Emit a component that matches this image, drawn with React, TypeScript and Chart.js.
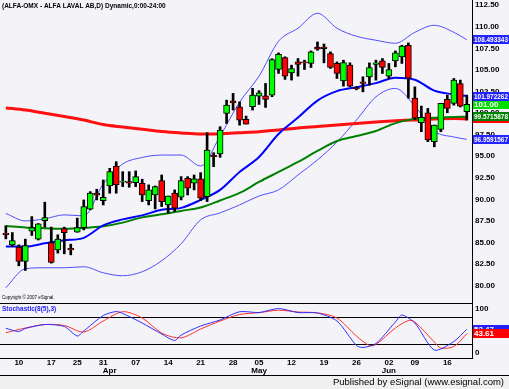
import React, { useEffect, useRef } from "react";
import { Chart, registerables } from "chart.js";

Chart.register(...registerables);

// ---- Daily OHLC (ALFA LAVAL AB), 72 sessions ----
const opens = [
  86.08, 84.74, 84.47, 82.81, 86.32, 85.40, 87.55, 85.00, 84.16, 86.62,
  84.32, 86.20, 86.74, 88.87, 90.72, 89.86, 91.56, 93.87, 92.00, 92.06,
  91.94, 91.87, 89.86, 90.52, 92.17, 89.36, 90.72, 90.25, 92.45, 91.87,
  92.37, 90.32, 95.10, 95.26, 99.97, 101.42, 100.73, 99.27, 100.73, 101.95,
  102.00, 102.08, 105.05, 106.44, 104.66, 105.93, 105.95, 105.75, 107.66, 107.66,
  106.90, 105.75, 103.74, 105.55, 102.95, 103.62, 104.20, 105.63, 106.05, 104.28,
  106.05, 106.51, 107.86, 101.73, 98.88, 100.04, 96.69, 98.12, 101.58, 101.12,
  103.43, 100.15,
];
const highs = [
  86.94, 86.16, 84.74, 85.40, 88.01, 87.20, 89.68, 86.79, 85.90, 86.79,
  84.82, 87.83, 89.94, 90.90, 91.18, 92.25, 93.60, 94.37, 93.21, 93.21,
  93.30, 92.34, 91.68, 91.56, 92.83, 90.40, 91.10, 92.64, 92.64, 92.83,
  93.10, 97.72, 95.41, 98.42, 101.50, 102.28, 101.30, 99.65, 102.86, 102.60,
  103.43, 106.30, 106.97, 106.52, 105.55, 106.32, 106.13, 107.20, 108.24, 108.00,
  107.09, 105.93, 106.13, 105.82, 103.05, 104.20, 105.82, 106.13, 106.32, 105.75,
  107.20, 107.86, 108.13, 103.04, 100.81, 100.54, 98.61, 101.12, 102.08, 104.01,
  103.82, 102.08,
];
const lows = [
  85.43, 84.54, 82.31, 81.77, 85.82, 85.30, 86.79, 82.62, 83.78, 83.70,
  83.58, 86.20, 86.47, 88.80, 89.94, 89.36, 90.72, 90.72, 91.48, 91.41,
  91.48, 89.75, 89.36, 88.90, 89.17, 88.40, 88.60, 89.94, 90.52, 91.10,
  89.86, 89.75, 93.79, 94.88, 98.80, 100.35, 98.60, 98.73, 100.35, 101.00,
  100.66, 101.90, 104.60, 103.90, 103.82, 104.28, 105.05, 105.28, 107.28, 105.82,
  105.17, 104.01, 103.12, 103.05, 102.70, 102.46, 103.24, 103.82, 104.59, 104.01,
  105.36, 105.75, 101.73, 99.27, 97.84, 96.69, 96.10, 97.84, 100.04, 100.92,
  100.70, 99.19,
];
const closes = [
  85.92, 85.24, 82.81, 84.66, 86.74, 87.17, 87.90, 82.69, 85.40, 86.16,
  84.15, 86.74, 89.17, 90.72, 90.49, 90.25, 93.21, 91.68, 92.12, 91.87,
  92.64, 90.52, 91.10, 91.48, 89.75, 90.40, 88.98, 92.17, 91.29, 92.37,
  90.14, 95.72, 94.95, 98.03, 100.92, 101.19, 99.19, 98.73, 102.08, 102.35,
  101.58, 106.20, 106.82, 104.28, 105.17, 105.63, 105.80, 107.09, 107.40, 107.47,
  105.28, 104.59, 105.86, 103.12, 102.80, 103.43, 105.28, 105.82, 105.28, 105.05,
  106.97, 107.75, 104.05, 99.42, 99.50, 96.88, 98.61, 101.12, 100.54, 103.82,
  100.81, 101.00,
];

// ---- Indicator lines, read at these session indices ----
const lineIdx = [0, 3, 6, 9, 12, 15, 18, 21, 24, 27, 30, 33, 36, 39, 42, 45, 48, 51, 54, 57, 60, 63, 66, 69, 71];
const bbUpper = [
  88.38, 87.51, 87.75, 88.21, 88.09, 91.79, 94.10, 94.86, 95.14, 95.14,
  93.87, 97.34, 101.27, 104.28, 108.32, 109.83, 111.56, 109.83, 108.90, 108.44,
  108.09, 109.36, 110.17, 109.36, 108.493343,
];
const bbMiddle = [
  84.54, 84.54, 84.91, 85.26, 85.55, 86.99, 87.69, 88.15, 88.79, 89.02,
  89.94, 91.10, 93.18, 94.91, 97.57, 99.48, 101.45, 102.54, 103.00, 103.47,
  104.10, 103.87, 102.60, 102.17, 101.972262,
];
const bbLower = [
  79.77, 81.97, 82.08, 82.08, 82.20, 81.50, 81.16, 81.62, 82.89, 84.86,
  87.63, 88.44, 89.36, 90.40, 91.10, 92.83, 94.57, 96.65, 99.19, 101.88,
  102.86, 100.81, 97.92, 97.23, 96.9591567,
];
const maGreen = [
  86.91, 86.76, 86.67, 86.59, 86.68, 86.88, 87.31, 87.92, 88.27, 88.67,
  89.06, 89.88, 90.75, 92.02, 93.18, 94.34, 95.61, 96.76, 97.34, 97.92,
  98.84, 99.33, 99.45, 99.54, 99.5715878,
];
const maRed = [
  100.60, 100.35, 99.98, 99.60, 99.19, 98.67, 98.38, 98.12, 97.86, 97.69,
  97.57, 97.62, 97.73, 97.85, 98.03, 98.27, 98.44, 98.61, 98.79, 98.96,
  99.10, 99.21, 99.31, 99.36, 99.3164,
];

// ---- Stochastic(8(5),3) ----
const stochKIdx = [0, 2, 3, 6, 9, 11, 12, 15, 17, 18, 21, 24, 26, 27, 30, 33, 36, 39, 42, 45, 48, 51, 54, 55, 57, 60, 61, 63, 66, 69, 71];
const stochK = [
  55.5, 48.3, 55.1, 64.0, 59.6, 38.2, 49.4, 84.3, 93.3, 88.8, 67.4, 42.7, 28.1, 40.4, 60.7, 74.2,
  92.8, 91.0, 100, 91.0, 89.9, 71.9, 16.9, 12.4, 21.3, 69.7, 85.4, 67.4, 6.7, 25.8, 53.47,
];
const stochDIdx = [0, 3, 6, 9, 12, 15, 18, 21, 24, 27, 30, 33, 36, 39, 42, 45, 48, 51, 54, 56, 57, 60, 62, 63, 66, 67, 69, 71];
const stochD = [
  45.6, 56.2, 64.0, 61.8, 47.2, 71.9, 92.8, 78.7, 44.9, 34.2, 53.9, 71.9, 86.5, 90.6,
  96.2, 92.1, 90.3, 78.7, 38.2, 16.9, 19.1, 56.2, 73.0, 69.7, 24.7, 11.2, 14.6, 43.61,
];

// ---- X axis labels (first session of each week, month names) ----
const weekTickIdx = [2, 7, 11, 15, 20, 25, 30, 35, 39, 44, 49, 54, 59, 63, 68];
const weekTickText = ["10", "17", "25", "31", "07", "14", "21", "28", "05", "12", "19", "26", "02", "09", "16"];
const monthTickIdx = [16, 39, 59];
const monthTickText = ["Apr", "May", "Jun"];

const TITLE = "(ALFA-OMX - ALFA LAVAL AB,D) Dynamic,0:00-24:00";
const STOCH_TITLE = "Stochastic(8(5),3)";
const COPYRIGHT = "Copyright \u00A9 2007 eSignal.";
const FOOTER = "Published by eSignal (www.esignal.com)";

const TICK_FONT = { family: "'Liberation Sans', Arial, sans-serif", size: 8, weight: "bold" as const, lineHeight: 1 };

export default function App() {
  const ref = useRef<HTMLCanvasElement>(null);

  useEffect(() => {
    document.body.style.margin = "0";
    const canvas = ref.current;
    if (!canvas) return;

    const idx = opens.map((_, i) => i);
    const bodyData = idx.map((i) => ({ x: i, y: [opens[i], closes[i]] }));
    const wickData = idx.map((i) => ({ x: i, y: [lows[i], highs[i]] }));
    const pts = (xs: number[], ys: number[]) => xs.map((x, k) => ({ x, y: ys[k] }));

    const tickText = new Map<number, string | string[]>();
    weekTickIdx.forEach((v, k) => tickText.set(v, weekTickText[k]));
    monthTickIdx.forEach((v, k) => {
      const w = tickText.get(v);
      tickText.set(v, [typeof w === "string" ? w : "", monthTickText[k]]);
    });
    const xTickValues = Array.from(tickText.keys()).sort((a, b) => a - b);

    const lineBase = {
      type: "line" as const,
      pointRadius: 0,
      xAxisID: "x",
      yAxisID: "y",
      cubicInterpolationMode: "monotone" as const,
      fill: false,
    };

    const noPad = (scale: any) => {
      scale.paddingTop = 0;
      scale.paddingBottom = 0;
      scale.paddingLeft = 0;
      scale.paddingRight = 0;
    };

    const bgPlugin = {
      id: "bgFill",
      beforeDraw(chart: any) {
        const { ctx, width, height } = chart;
        ctx.save();
        ctx.fillStyle = "#F4F3F8";
        ctx.fillRect(0, 0, width, height);
        // footer band
        const fy = height - 14;
        ctx.fillStyle = "#F0F0F0";
        ctx.fillRect(0, fy, width, height - fy);
        ctx.strokeStyle = "#000";
        ctx.lineWidth = 1;
        ctx.beginPath();
        ctx.moveTo(0, fy + 0.5);
        ctx.lineTo(width, fy + 0.5);
        ctx.stroke();
        ctx.fillStyle = "#000";
        ctx.font = "9.5px 'Liberation Sans', Arial, sans-serif";
        ctx.textAlign = "right";
        ctx.textBaseline = "middle";
        ctx.fillText(FOOTER, width - 5, fy + 7.5);
        ctx.restore();
      },
    };

    const decoPlugin = {
      id: "deco",
      afterDraw(chart: any) {
        const { ctx, chartArea, scales, width } = chart;
        const yS = scales.yS;
        const y = scales.y;
        ctx.save();
        ctx.strokeStyle = "#000";
        ctx.lineWidth = 1;
        // panel separator
        const sy = Math.round(yS.top) + 0.5;
        ctx.beginPath();
        ctx.moveTo(chartArea.left, sy);
        ctx.lineTo(chartArea.right, sy);
        ctx.stroke();
        // titles
        ctx.textAlign = "left";
        ctx.textBaseline = "middle";
        ctx.font = "bold 6.5px 'Liberation Sans', Arial, sans-serif";
        ctx.fillStyle = "#000";
        ctx.fillText(TITLE, 2, 6);
        ctx.font = "4.5px 'Liberation Sans', Arial, sans-serif";
        ctx.fillText(COPYRIGHT, 2, yS.top - 5);
        ctx.font = "bold 6.5px 'Liberation Sans', Arial, sans-serif";
        ctx.fillStyle = "#2020FF";
        ctx.fillText(STOCH_TITLE, 2, yS.top + 6);

        // value boxes on the right axis
        const boxX = chartArea.right + 1;
        const boxW = width - boxX;
        const drawBox = (scale: any, value: number, bg: string, text: string) => {
          const py = scale.getPixelForValue(value);
          const top = Math.round(py - 4.5);
          ctx.fillStyle = bg;
          ctx.fillRect(boxX, top, boxW, 9);
          ctx.fillStyle = "#FFFFFF";
          ctx.font = "bold 8px 'Liberation Sans', Arial, sans-serif";
          ctx.textAlign = "left";
          ctx.textBaseline = "middle";
          ctx.fillText(text, boxX + 1, top + 5, boxW - 2);
        };
        const last = (a: number[]) => a[a.length - 1];
        drawBox(y, last(maRed), "#FF0000", String(last(maRed)));
        drawBox(y, last(bbLower), "#2323FF", String(last(bbLower)));
        drawBox(y, last(maGreen), "#008000", String(last(maGreen)));
        drawBox(y, last(closes), "#00E000", last(closes).toFixed(2));
        drawBox(y, last(bbMiddle), "#2323FF", String(last(bbMiddle)));
        drawBox(y, last(bbUpper), "#2323FF", String(last(bbUpper)));
        drawBox(yS, last(stochK), "#2323FF", last(stochK).toFixed(2));
        drawBox(yS, last(stochD), "#FF0000", last(stochD).toFixed(2));
        ctx.restore();
      },
    };

    const chart = new Chart(canvas, {
      type: "bar",
      data: {
        datasets: [
          {
            type: "bar",
            data: bodyData as any,
            xAxisID: "x",
            yAxisID: "y",
            grouped: false,
            barThickness: 6,
            borderWidth: 1,
            borderColor: "#000000",
            borderSkipped: false,
            backgroundColor: (c: any) =>
              closes[c.dataIndex] >= opens[c.dataIndex] ? "#00FF00" : "#FF0000",
            order: 0,
          } as any,
          {
            type: "bar",
            data: wickData as any,
            xAxisID: "x",
            yAxisID: "y",
            grouped: false,
            barThickness: 2,
            borderWidth: 0,
            backgroundColor: "#000000",
            order: 1,
          } as any,
          { ...lineBase, data: pts(lineIdx, bbMiddle), borderColor: "#0000FF", borderWidth: 2, order: 2 } as any,
          { ...lineBase, data: pts(lineIdx, maGreen), borderColor: "#008000", borderWidth: 2, order: 3 } as any,
          { ...lineBase, data: pts(lineIdx, maRed), borderColor: "#FF1010", borderWidth: 3, order: 4 } as any,
          { ...lineBase, data: pts(lineIdx, bbUpper), borderColor: "#5050FF", borderWidth: 1, order: 5 } as any,
          { ...lineBase, data: pts(lineIdx, bbLower), borderColor: "#5050FF", borderWidth: 1, order: 5 } as any,
          {
            type: "line",
            data: pts(stochKIdx, stochK),
            xAxisID: "x",
            yAxisID: "yS",
            pointRadius: 0,
            borderWidth: 1,
            borderColor: "#3030FF",
            tension: 0.25,
            order: 6,
          } as any,
          {
            type: "line",
            data: pts(stochDIdx, stochD),
            xAxisID: "x",
            yAxisID: "yS",
            pointRadius: 0,
            borderWidth: 1,
            borderColor: "#FF3030",
            tension: 0.3,
            order: 7,
          } as any,
        ],
      },
      options: {
        responsive: false,
        animation: false,
        devicePixelRatio: 1,
        events: [],
        layout: { padding: { left: 0, right: 0, top: 0, bottom: 14 } },
        plugins: { legend: { display: false }, tooltip: { enabled: false } },
        scales: {
          x: {
            type: "linear",
            position: "bottom",
            min: -0.9,
            max: 71.8,
            offset: false,
            grid: { display: false, drawTicks: false },
            border: { display: true, color: "#000000", width: 1 },
            afterBuildTicks: (scale: any) => {
              scale.ticks = xTickValues.map((v) => ({ value: v }));
            },
            afterFit: (scale: any) => {
              scale.height = 17;
              noPad(scale);
            },
            ticks: {
              autoSkip: false,
              maxRotation: 0,
              minRotation: 0,
              padding: 1,
              color: "#000000",
              font: TICK_FONT,
              callback: (v: any) => tickText.get(Number(v)) ?? "",
            },
          },
          y: {
            type: "linear",
            position: "right",
            stack: "right",
            stackWeight: 303,
            min: 78.0,
            max: 113.1,
            grid: { display: false, drawTicks: false },
            border: { display: true, color: "#000000", width: 1 },
            afterFit: (scale: any) => {
              scale.width = 37;
              noPad(scale);
            },
            ticks: {
              stepSize: 2.5,
              includeBounds: false,
              autoSkip: false,
              padding: 3,
              color: "#000000",
              font: TICK_FONT,
              callback: (v: any) => Number(v).toFixed(2),
            },
          },
          yS: {
            type: "linear",
            position: "right",
            stack: "right",
            stackWeight: 55,
            min: -11.2,
            max: 112.4,
            grid: {
              display: true,
              drawTicks: false,
              color: (c: any) =>
                c.tick && (c.tick.value === 20 || c.tick.value === 80) ? "#000000" : "rgba(0,0,0,0)",
              lineWidth: 1,
            },
            border: { display: true, color: "#000000", width: 1 },
            afterBuildTicks: (scale: any) => {
              scale.ticks = [0, 20, 80, 100].map((v) => ({ value: v }));
            },
            afterFit: (scale: any) => {
              scale.width = 37;
              noPad(scale);
            },
            ticks: {
              autoSkip: false,
              padding: 3,
              color: "#000000",
              font: TICK_FONT,
              callback: (v: any) => (Number(v) === 0 || Number(v) === 100 ? String(v) : ""),
            },
          },
        },
      } as any,
      plugins: [bgPlugin, decoPlugin],
    });

    return () => chart.destroy();
  }, []);

  return (
    <div style={{ position: "absolute", left: 0, top: 0, width: 509, height: 389 }}>
      <canvas ref={ref} width={509} height={389} style={{ display: "block", width: 509, height: 389 }} />
    </div>
  );
}
